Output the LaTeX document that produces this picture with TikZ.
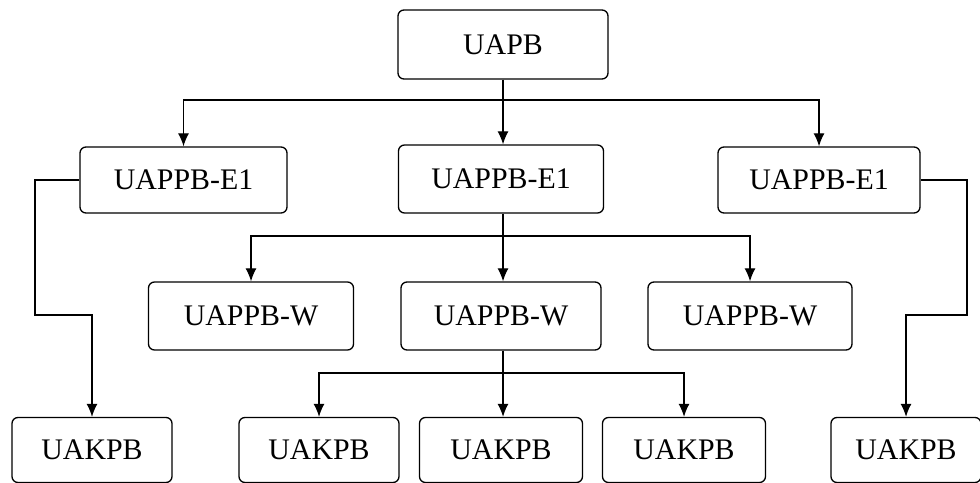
\documentclass[tikz,border=0pt]{standalone}
\usepackage{fontspec}
\setmainfont{Liberation Serif}
\usetikzlibrary{arrows.meta}

\begin{document}
\begin{tikzpicture}[x=0.2mm,y=-0.2mm,
    unit/.style={draw,rounded corners=1.2mm,line width=0.75pt,
      font=\fontsize{17}{20}\selectfont,inner sep=0pt},
    link/.style={line width=0.75pt,-{Latex[length=2.6mm,width=2.2mm]}}]
    \useasboundingbox (0,0) rectangle (980,483);
    % top
    \node[unit,minimum width=42mm,minimum height=13.8mm] (uapb) at (503,44.5) {UAPB};
    % eselon I
    \node[unit,minimum width=41.4mm,minimum height=13.2mm] (e1L) at (183.5,180) {UAPPB-E1};
    \node[unit,minimum width=41mm,minimum height=13.6mm] (e1C) at (501,179) {UAPPB-E1};
    \node[unit,minimum width=40.4mm,minimum height=13.2mm] (e1R) at (819,180) {UAPPB-E1};
    % wilayah
    \node[unit,minimum width=41mm,minimum height=13.6mm] (wL) at (251,316) {UAPPB-W};
    \node[unit,minimum width=40mm,minimum height=13.6mm] (wC) at (501,316) {UAPPB-W};
    \node[unit,minimum width=40.8mm,minimum height=13.6mm] (wR) at (750,316) {UAPPB-W};
    % kuasa pengguna
    \node[unit,minimum width=32mm,minimum height=13mm] (k1) at (92,450) {UAKPB};
    \node[unit,minimum width=32mm,minimum height=13mm] (k2) at (319,450) {UAKPB};
    \node[unit,minimum width=32.6mm,minimum height=13mm] (k3) at (501,450) {UAKPB};
    \node[unit,minimum width=32.6mm,minimum height=13mm] (k4) at (684,450) {UAKPB};
    \node[unit,minimum width=30mm,minimum height=13mm] (k5) at (906,450) {UAKPB};

    \coordinate (busA) at (503,100);
    \coordinate (busB) at (503,236);
    \coordinate (busC) at (503,373);
    \coordinate (sideL) at (35,315);
    \coordinate (sideR) at (967,315);

    \draw[line width=0.75pt] (uapb.south) -- (busA);
    \draw[link] (busA) -| (e1L.north);
    \draw[link] (busA) -- (e1C.north -| busA);
    \draw[link] (busA) -| (e1R.north);

    \draw[line width=0.75pt] (e1C.south -| busB) -- (busB);
    \draw[link] (busB) -| (wL.north);
    \draw[link] (busB) -- (wC.north -| busB);
    \draw[link] (busB) -| (wR.north);

    \draw[line width=0.75pt] (wC.south -| busC) -- (busC);
    \draw[link] (busC) -| (k2.north);
    \draw[link] (busC) -- (k3.north -| busC);
    \draw[link] (busC) -| (k4.north);

    \draw[link] (e1L.west) -| (sideL) -| (k1.north);
    \draw[link] (e1R.east) -| (sideR) -| (k5.north);
\end{tikzpicture}
\end{document}
